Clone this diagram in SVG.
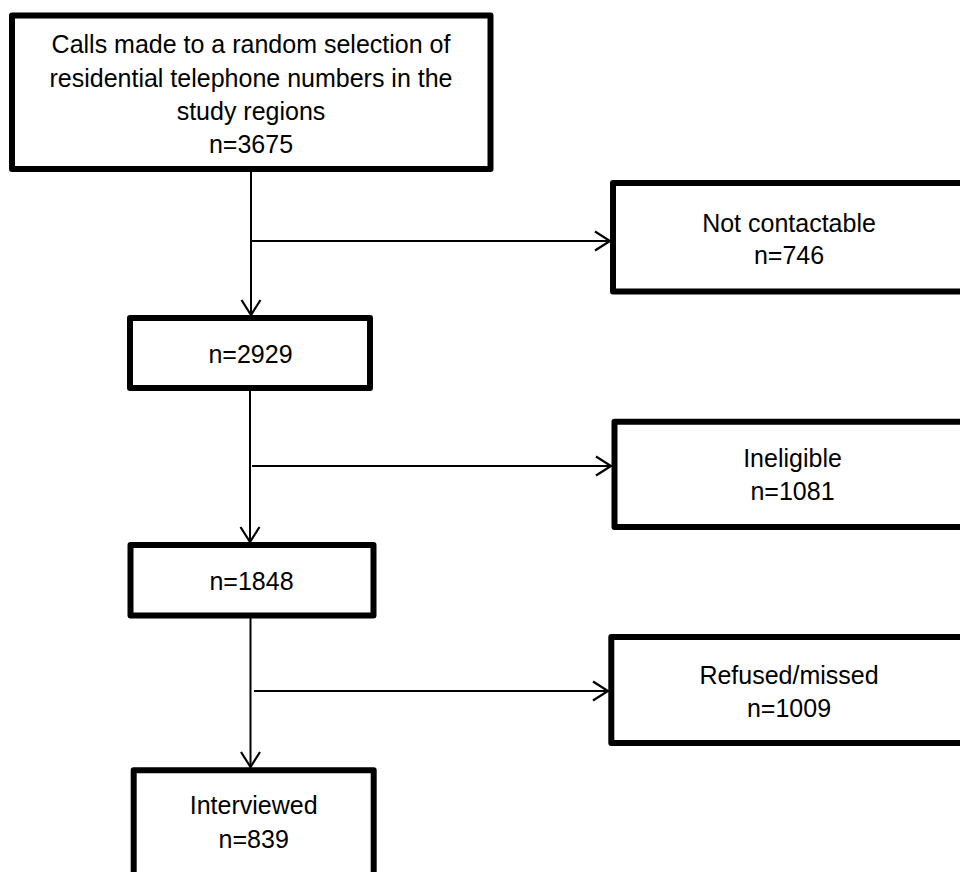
<svg xmlns="http://www.w3.org/2000/svg" width="960" height="872" viewBox="0 0 960 872">
<defs>
<style>
.box{fill:#fff;stroke:#000;stroke-width:6;stroke-linejoin:round}
.lbl{font-family:"Liberation Sans",Arial,sans-serif;font-size:25px;fill:#000;text-anchor:middle}
.con{fill:none;stroke:#000;stroke-width:2}
</style>
<marker id="arr" markerUnits="userSpaceOnUse" markerWidth="20" markerHeight="24" refX="15" refY="10" viewBox="0 0 20 24" orient="auto" overflow="visible">
<path d="M0,0.5 L15,10 L0,19.5" fill="none" stroke="#000" stroke-width="2.2"/>
</marker>
</defs>
<rect width="960" height="872" fill="#fff"/>
<g id="connectors">
<path class="con" d="M251,172 L251,315" marker-end="url(#arr)"/>
<path class="con" d="M251,241 L610,241" marker-end="url(#arr)"/>
<path class="con" d="M250,391 L250,542" marker-end="url(#arr)"/>
<path class="con" d="M252,466 L611,466" marker-end="url(#arr)"/>
<path class="con" d="M250.5,618 L250.5,767" marker-end="url(#arr)"/>
<path class="con" d="M254,691 L608,691" marker-end="url(#arr)"/>
</g>
<g id="calls">
<rect class="box" x="12" y="15.5" width="478.5" height="153.5"/>
<text class="lbl" x="251" y="53">Calls made to a random selection of</text>
<text class="lbl" x="251" y="86.5">residential telephone numbers in the</text>
<text class="lbl" x="251" y="120">study regions</text>
<text class="lbl" x="251" y="153">n=3675</text>
</g>
<g id="notcontactable">
<rect class="box" x="613" y="183" width="352" height="108.5"/>
<text class="lbl" x="789" y="232">Not contactable</text>
<text class="lbl" x="789" y="264">n=746</text>
</g>
<g id="n2929">
<rect class="box" x="130" y="318" width="240" height="70"/>
<text class="lbl" x="250.5" y="362.5">n=2929</text>
</g>
<g id="ineligible">
<rect class="box" x="614.5" y="421.7" width="356" height="105.3"/>
<text class="lbl" x="792.5" y="466.5">Ineligible</text>
<text class="lbl" x="792.5" y="500">n=1081</text>
</g>
<g id="n1848">
<rect class="box" x="130.5" y="545" width="243" height="70.5"/>
<text class="lbl" x="251.5" y="589.5">n=1848</text>
</g>
<g id="refused">
<rect class="box" x="611.3" y="637" width="355" height="106"/>
<text class="lbl" x="789" y="683.5">Refused/missed</text>
<text class="lbl" x="789" y="716.5">n=1009</text>
</g>
<g id="interviewed">
<rect class="box" x="133.7" y="770.3" width="240" height="110"/>
<text class="lbl" x="253.7" y="814.3">Interviewed</text>
<text class="lbl" x="253.7" y="848.3">n=839</text>
</g>
</svg>
